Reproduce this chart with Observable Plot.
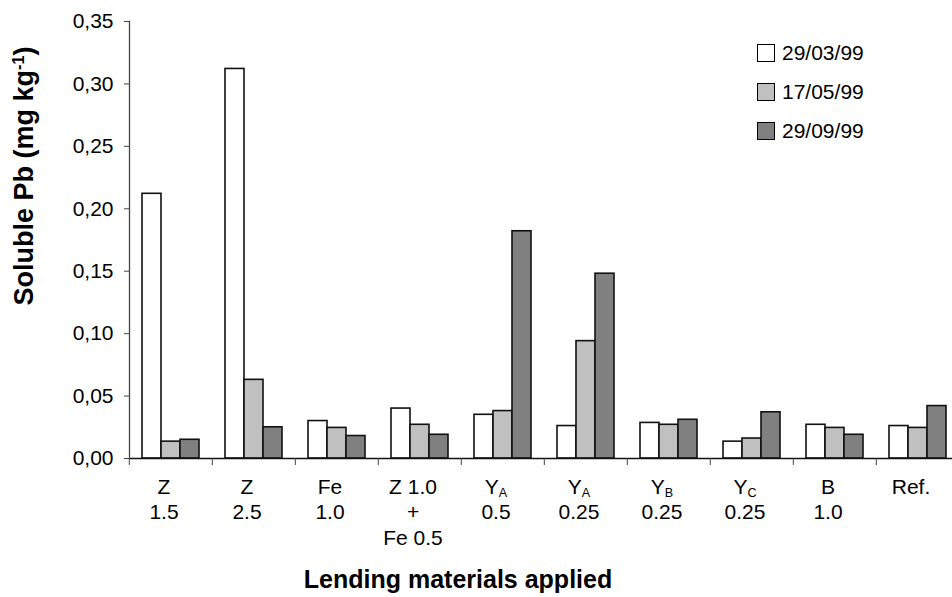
<!DOCTYPE html>
<html>
<head>
<meta charset="utf-8">
<script src="https://cdn.jsdelivr.net/npm/d3@7"></script>
<script src="https://cdn.jsdelivr.net/npm/@observablehq/plot@0.6"></script>
<style>
  html, body { margin: 0; padding: 0; background: #fff; }
  #wrap { position: relative; width: 952px; height: 597px; overflow: hidden; font-family: "Liberation Sans", Arial, Helvetica, sans-serif; }
  #legend { position: absolute; left: 757px; top: 43px; }
  .row { display: flex; align-items: center; height: 19px; margin-bottom: 20px; }
  .sw { width: 16px; height: 16px; border: 1.5px solid #000; box-sizing: content-box; margin-right: 7px; }
  .lab { font-size: 21px; line-height: 19px; color: #000; }
</style>
</head>
<body>
<div id="wrap"><div id="chart"></div><div id="legend"></div></div>
<script>
const categories = ["Z 1.5", "Z 2.5", "Fe 1.0", "Z 1.0 + Fe 0.5", "YA 0.5", "YA 0.25", "YB 0.25", "YC 0.25", "B 1.0", "Ref."];
const labelLine1 = ["Z", "Z", "Fe", "Z 1.0", "Y_A", "Y_A", "Y_B", "Y_C", "B", "Ref."];
const labelLine2 = ["1.5", "2.5", "1.0", "+", "0.5", "0.25", "0.25", "0.25", "1.0", ""];
const labelLine3 = ["", "", "", "Fe 0.5", "", "", "", "", "", ""];
const seriesNames = ["29/03/99", "17/05/99", "29/09/99"];
const values1 = [0.212, 0.312, 0.030, 0.040, 0.035, 0.026, 0.0285, 0.0135, 0.027, 0.026];
const values2 = [0.0135, 0.063, 0.0245, 0.027, 0.038, 0.094, 0.027, 0.016, 0.0245, 0.0245];
const values3 = [0.015, 0.025, 0.018, 0.019, 0.182, 0.148, 0.031, 0.037, 0.019, 0.042];
const yTicks = [0, 0.05, 0.10, 0.15, 0.20, 0.25, 0.30, 0.35];
const fills = ["#ffffff", "#c0c0c0", "#808080"];
const yTitle = ["Soluble Pb (mg kg", "-1", ")"];
const xTitle = "Lending materials applied";

const seriesValues = [values1, values2, values3];
const data = categories.flatMap((c, i) => seriesNames.map((s, j) => ({cat: c, series: s, value: seriesValues[j][i]})));

const W = 952, H = 597, mL = 127, mR = -9, mT = 21, mB = 139;
const bw = (W - mL - mR) / categories.length;
const fmt = d => d.toFixed(2).replace(".", ",");
const labelMark = (lines, dy) => Plot.text(categories, {
  fx: d => d, text: (d, i) => lines[i], frameAnchor: "bottom", lineAnchor: "bottom",
  dy, dx: -7, fontSize: 21, fill: "#000"
});

const plot = Plot.plot({
  width: W, height: H,
  marginLeft: mL, marginRight: mR, marginTop: mT, marginBottom: mB,
  style: {fontFamily: "Liberation Sans, Arial, Helvetica, sans-serif", fontSize: "21px", color: "#000", background: "#fff", overflow: "visible"},
  fx: {domain: categories, padding: 0, label: null},
  x: {domain: seriesNames, paddingInner: 0, paddingOuter: 0.683, axis: null},
  y: {domain: [0, 0.35], label: null},
  color: {domain: seriesNames, range: fills},
  marks: [
    Plot.barY(data, {fx: "cat", x: "series", y: "value", fill: "series", stroke: "#111", strokeWidth: 1.6}),
    Plot.ruleY([0], {stroke: "#111", strokeWidth: 1.3}),
    Plot.frame({anchor: "left", facetAnchor: "left", stroke: "#444", strokeWidth: 1.3}),
    Plot.axisY({ticks: yTicks, tickSize: 5, tickPadding: 11, tickFormat: fmt, fontSize: 21, label: null, stroke: "#444"}),
    Plot.axisFx({anchor: "bottom", tickSize: 7, tickFormat: () => "", dx: -bw / 2, label: null, stroke: "#444"}),
    labelMark(labelLine1, 35),
    labelMark(labelLine2, 60),
    labelMark(labelLine3, 86)
  ]
});
document.getElementById("chart").appendChild(plot);

const ns = "http://www.w3.org/2000/svg";
const svg = plot.tagName.toLowerCase() === "svg" ? plot : plot.querySelector("svg");
// subscripts in category labels
svg.querySelectorAll("text, tspan").forEach(el => {
  for (const node of [...el.childNodes]) {
    if (node.nodeType === 3 && node.nodeValue.includes("_")) {
      const [base, sub] = node.nodeValue.split("_");
      const ts = document.createElementNS(ns, "tspan");
      ts.setAttribute("font-size", "0.6em");
      ts.setAttribute("baseline-shift", "-3");
      ts.textContent = sub;
      el.insertBefore(document.createTextNode(base), node);
      el.insertBefore(ts, node);
      el.removeChild(node);
    }
  }
});
// axis titles
const g = d3.select(svg).append("g").attr("font-weight", "bold").attr("fill", "#000");
const yt = g.append("text").attr("transform", "translate(33,176) rotate(-90)").attr("text-anchor", "middle").attr("font-size", 27);
yt.append("tspan").text(yTitle[0]);
yt.append("tspan").attr("font-size", "0.6em").attr("baseline-shift", "9").text(yTitle[1]);
yt.append("tspan").text(yTitle[2]);
g.append("text").attr("x", 458).attr("y", 588).attr("text-anchor", "middle").attr("font-size", 25).text(xTitle);

// legend
const leg = d3.select("#legend");
seriesNames.forEach((s, j) => {
  const r = leg.append("div").attr("class", "row");
  r.append("div").attr("class", "sw").style("background", fills[j]);
  r.append("div").attr("class", "lab").text(s);
});
</script>
</body>
</html>
